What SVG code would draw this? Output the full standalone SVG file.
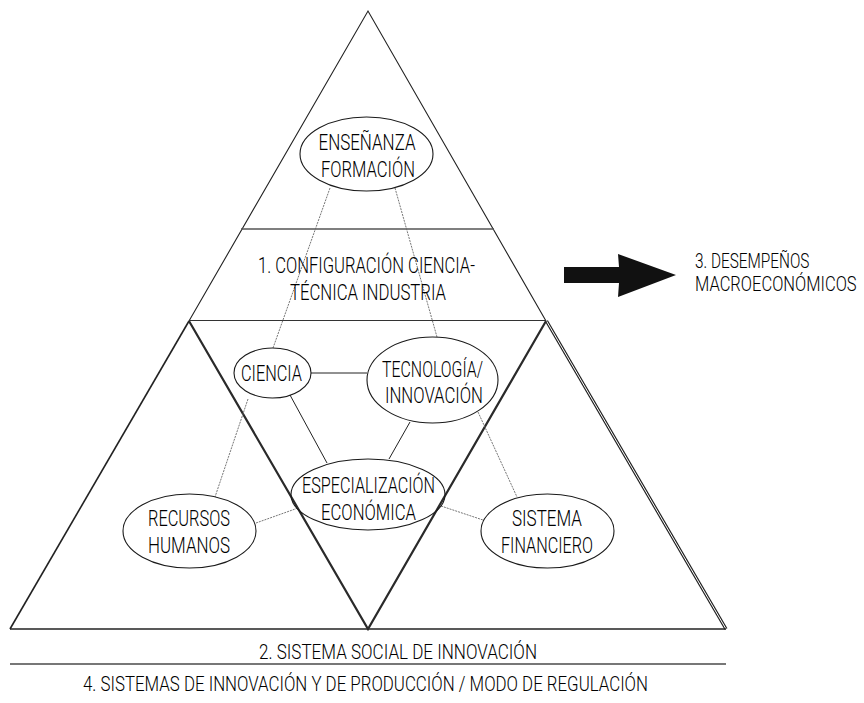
<svg xmlns="http://www.w3.org/2000/svg" width="864" height="703" viewBox="0 0 864 703">
  <style>
    text { font-family: Roboto, "Liberation Sans", sans-serif; font-weight: 300; fill: #000; text-anchor: middle; }
    .edge { stroke: #222; stroke-width: 1.1; fill: none; }
    .bold { stroke: #2a2a2a; stroke-width: 2.2; fill: none; }
    .node { stroke: #1a1a1a; stroke-width: 1.1; fill: none; }
    .link { stroke: #222; stroke-width: 1; fill: none; }
    .dot { stroke: #666; stroke-width: 0.9; stroke-dasharray: 2 1; fill: none; }
  </style>

  <!-- pyramid frame -->
  <g id="pyramid">
    <polyline class="edge" points="189,321 368,11 546,321"/>
    <line x1="241" y1="229" x2="494" y2="229" stroke="#555" stroke-width="1.6"/>
    <line x1="189" y1="320.5" x2="546" y2="320.5" stroke="#333" stroke-width="1.2"/>
    <line x1="189" y1="321" x2="10" y2="629" stroke="#222" stroke-width="1.6"/>
    <!-- double right edge of the base -->
    <line x1="546.5" y1="321" x2="726" y2="629" stroke="#222" stroke-width="3.2"/>
    <line x1="546.5" y1="321" x2="726" y2="629" stroke="#fff" stroke-width="1"/>
    <line x1="10" y1="629" x2="726" y2="629" stroke="#222" stroke-width="1.6"/>
    <!-- inverted triangle -->
    <polyline class="bold" points="189,321 368,629 546,321"/>
    <line x1="10" y1="664" x2="726" y2="664" stroke="#777" stroke-width="2"/>
  </g>

  <!-- connectors -->
  <g id="connectors">
    <line class="dot" x1="330" y1="188" x2="273" y2="348"/>
    <line class="dot" x1="395" y1="188" x2="437" y2="337"/>
    <line class="dot" x1="248" y1="399" x2="215" y2="497"/>
    <line class="dot" x1="256" y1="523" x2="298" y2="508"/>
    <line class="dot" x1="478" y1="412" x2="517" y2="497"/>
    <line class="dot" x1="441" y1="506" x2="483" y2="520"/>
    <line class="link" x1="311" y1="373" x2="367" y2="373"/>
    <line class="link" x1="290" y1="395" x2="327" y2="463"/>
    <line class="link" x1="410" y1="422" x2="389" y2="459"/>
  </g>

  <g id="ensenanza">
    <ellipse class="node" cx="366.5" cy="154" rx="66.5" ry="37"/>
    <text font-size="22" x="367" y="150" textLength="97" lengthAdjust="spacingAndGlyphs">ENSEÑANZA</text>
    <text font-size="22" x="368" y="177" textLength="94" lengthAdjust="spacingAndGlyphs">FORMACIÓN</text>
  </g>

  <g id="configuracion">
    <text font-size="22" x="366.5" y="273" textLength="217" lengthAdjust="spacingAndGlyphs">1. CONFIGURACIÓN CIENCIA-</text>
    <text font-size="22" x="368" y="300" textLength="156" lengthAdjust="spacingAndGlyphs">TÉCNICA INDUSTRIA</text>
  </g>

  <g id="ciencia">
    <ellipse class="node" cx="272.5" cy="373" rx="38.5" ry="25"/>
    <text font-size="22" x="271.5" y="381" textLength="61" lengthAdjust="spacingAndGlyphs">CIENCIA</text>
  </g>

  <g id="tecnologia">
    <ellipse class="node" cx="432.5" cy="380" rx="65.5" ry="43"/>
    <text font-size="22" x="432.5" y="377" textLength="101" lengthAdjust="spacingAndGlyphs">TECNOLOGÍA/</text>
    <text font-size="22" x="434" y="403" textLength="98" lengthAdjust="spacingAndGlyphs">INNOVACIÓN</text>
  </g>

  <g id="especializacion">
    <ellipse class="node" cx="368" cy="494.5" rx="77" ry="35.5"/>
    <text font-size="22" x="368.5" y="493" textLength="133" lengthAdjust="spacingAndGlyphs">ESPECIALIZACIÓN</text>
    <text font-size="22" x="368.5" y="520" textLength="95" lengthAdjust="spacingAndGlyphs">ECONÓMICA</text>
  </g>

  <g id="recursos">
    <ellipse class="node" cx="189.5" cy="531" rx="66.5" ry="37"/>
    <text font-size="22" x="189" y="526" textLength="82" lengthAdjust="spacingAndGlyphs">RECURSOS</text>
    <text font-size="22" x="189" y="553" textLength="82" lengthAdjust="spacingAndGlyphs">HUMANOS</text>
  </g>

  <g id="financiero">
    <ellipse class="node" cx="547.5" cy="531" rx="66.5" ry="37"/>
    <text font-size="22" x="547" y="526" textLength="70" lengthAdjust="spacingAndGlyphs">SISTEMA</text>
    <text font-size="22" x="547" y="553" textLength="92" lengthAdjust="spacingAndGlyphs">FINANCIERO</text>
  </g>

  <g id="desempenos">
    <polygon points="564,267 619,267 618,254 676,275 618,297 619,283 564,283" fill="#111"/>
    <!-- condensed by horizontal scaling -->
    <text font-size="20" transform="translate(695,268) scale(0.8,1)" x="0" y="0" text-anchor="start" style="text-anchor:start" textLength="143" lengthAdjust="spacingAndGlyphs">3. DESEMPEÑOS</text>
    <text font-size="20" transform="translate(695,291) scale(0.8,1)" x="0" y="0" text-anchor="start" style="text-anchor:start" textLength="202" lengthAdjust="spacingAndGlyphs">MACROECONÓMICOS</text>
  </g>

  <g id="sistema-social">
    <text font-size="20" x="398" y="659" textLength="278" lengthAdjust="spacingAndGlyphs">2. SISTEMA SOCIAL DE INNOVACIÓN</text>
  </g>

  <g id="sistemas-innovacion">
    <text font-size="20" x="365.5" y="691" textLength="565" lengthAdjust="spacingAndGlyphs">4. SISTEMAS DE INNOVACIÓN Y DE PRODUCCIÓN / MODO DE REGULACIÓN</text>
  </g>
</svg>
